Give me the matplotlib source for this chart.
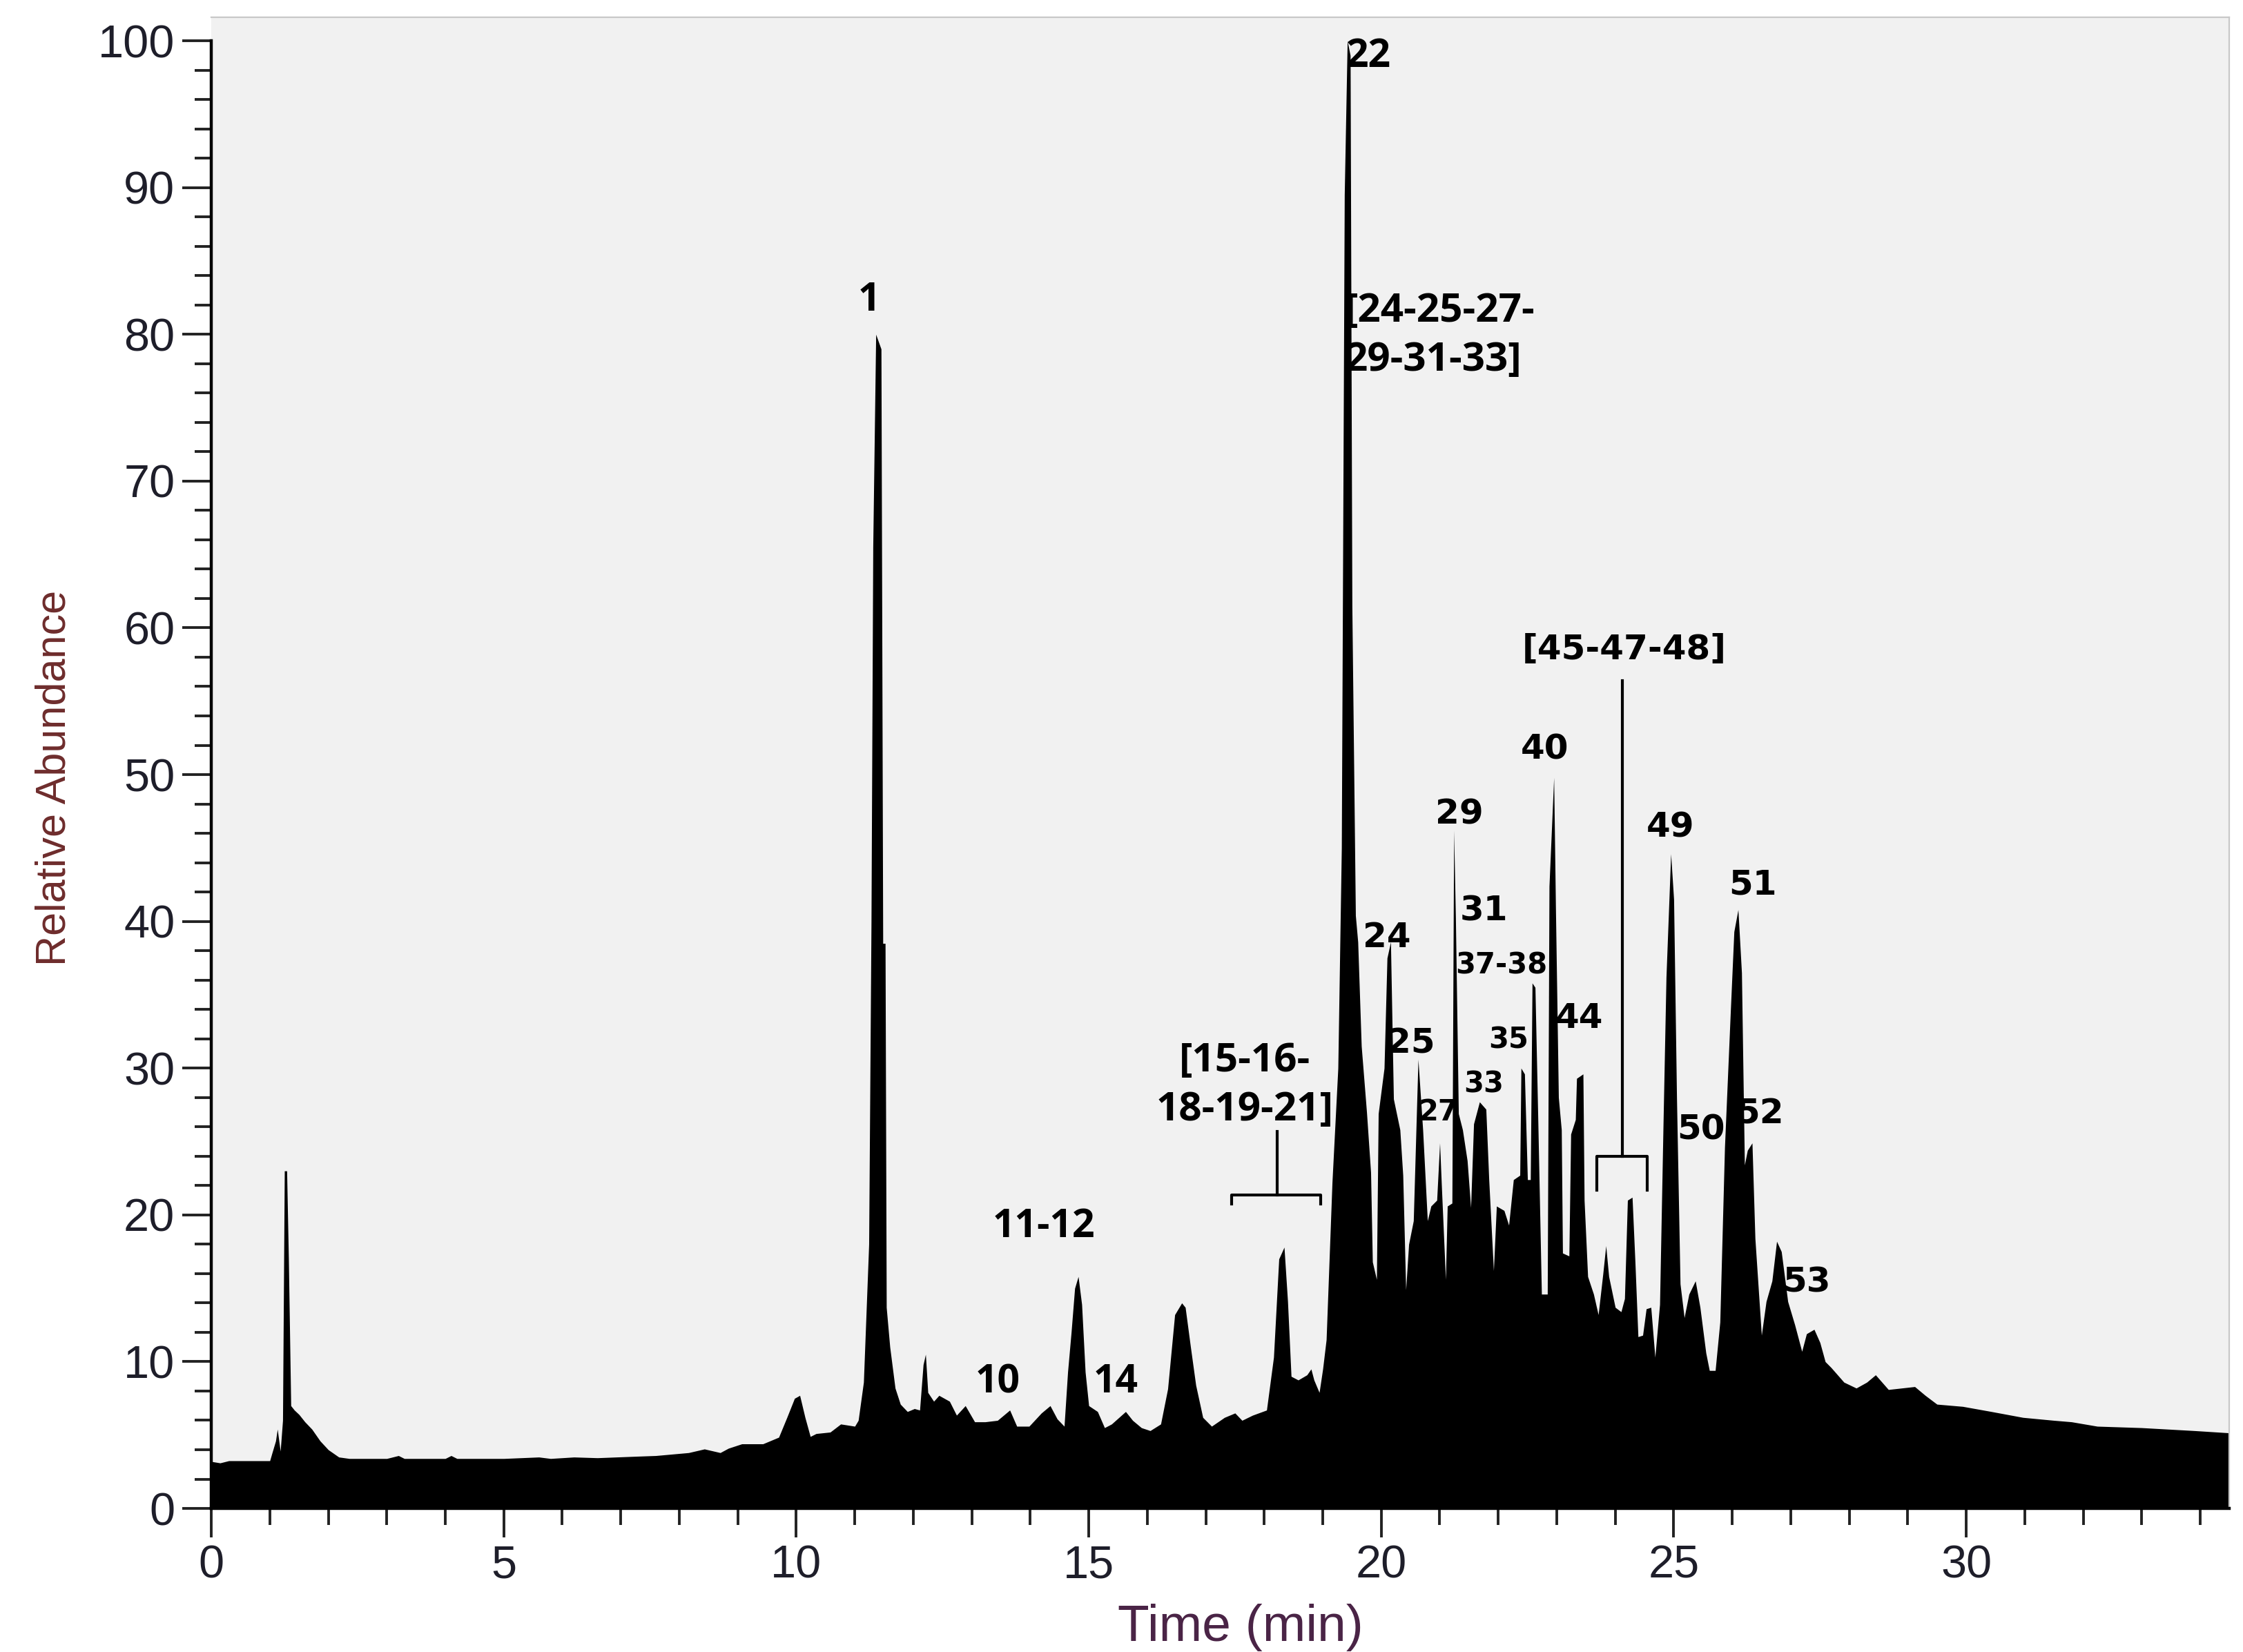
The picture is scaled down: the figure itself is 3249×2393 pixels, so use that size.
import matplotlib
matplotlib.use("Agg")
import matplotlib.pyplot as plt
from matplotlib.ticker import MultipleLocator

# chromatogram profile (time in min, relative abundance in %)
time_min = [
    0.0, 0.15, 0.3, 0.6, 1.0, 1.04, 1.1, 1.13, 1.18, 1.22, 1.25, 1.29, 1.32, 1.36,
    1.42, 1.5, 1.6, 1.72, 1.86, 2.0, 2.18, 2.36, 3.0, 3.2, 3.3, 4.0, 4.1, 4.2, 5.0,
    5.6, 5.8, 6.2, 6.6, 7.25, 7.6, 8.16, 8.43, 8.7, 8.84, 9.07, 9.43, 9.7, 9.84,
    9.97, 10.06, 10.15, 10.24, 10.34, 10.58, 10.76, 11.0, 11.06, 11.15, 11.24,
    11.28, 11.31, 11.36, 11.45, 11.48, 11.52, 11.54, 11.6, 11.69, 11.78, 11.9,
    12.02, 12.11, 12.17, 12.21, 12.25, 12.35, 12.44, 12.62, 12.74, 12.89, 13.05,
    13.23, 13.44, 13.65, 13.77, 13.98, 14.19, 14.34, 14.46, 14.58, 14.64, 14.7,
    14.76, 14.82, 14.88, 14.94, 15.0, 15.15, 15.27, 15.39, 15.63, 15.75, 15.9,
    16.05, 16.23, 16.35, 16.47, 16.59, 16.65, 16.74, 16.83, 16.95, 17.1, 17.32,
    17.5, 17.62, 17.8, 18.04, 18.16, 18.25, 18.34, 18.4, 18.46, 18.58, 18.73,
    18.8, 18.85, 18.94, 19.0, 19.06, 19.16, 19.26, 19.32, 19.37, 19.42, 19.47,
    19.5, 19.56, 19.6, 19.66, 19.75, 19.82, 19.85, 19.92, 19.95, 20.05, 20.1,
    20.16, 20.21, 20.32, 20.37, 20.42, 20.47, 20.55, 20.63, 20.71, 20.79, 20.85,
    20.95, 21.0, 21.03, 21.1, 21.13, 21.21, 21.24, 21.27, 21.32, 21.39, 21.47,
    21.53, 21.58, 21.68, 21.79, 21.84, 21.92, 21.97, 22.1, 22.18, 22.26, 22.37,
    22.39, 22.45, 22.5, 22.55, 22.58, 22.63, 22.68, 22.74, 22.84, 22.87, 22.95,
    22.98, 23.03, 23.08, 23.1, 23.21, 23.24, 23.32, 23.34, 23.45, 23.47, 23.53,
    23.63, 23.71, 23.79, 23.84, 23.89, 24.0, 24.1, 24.16, 24.21, 24.29, 24.34,
    24.39, 24.47, 24.53, 24.61, 24.68, 24.76, 24.82, 24.87, 24.95, 25.0, 25.05,
    25.11, 25.18, 25.26, 25.37, 25.45, 25.55, 25.61, 25.71, 25.79, 25.87, 25.97,
    26.03, 26.1, 26.16, 26.21, 26.26, 26.34, 26.39, 26.5, 26.58, 26.68, 26.76,
    26.84, 26.95, 27.07, 27.19, 27.27, 27.4, 27.5, 27.59, 27.69, 27.91, 28.12,
    28.3, 28.45, 28.67, 29.12, 29.3, 29.5, 29.94, 30.43, 30.97, 31.5, 31.8,
    32.24, 33.0, 33.9, 34.49,
]
abundance = [
    3.2, 3.1, 3.25, 3.25, 3.25, 3.8, 4.6, 5.4, 3.9, 6.0, 23.0, 23.0, 17.0, 7.0,
    6.7, 6.4, 5.9, 5.4, 4.6, 4.0, 3.5, 3.4, 3.4, 3.6, 3.4, 3.4, 3.6, 3.4, 3.4,
    3.5, 3.4, 3.5, 3.45, 3.55, 3.6, 3.8, 4.05, 3.8, 4.1, 4.4, 4.4, 4.85, 6.2,
    7.5, 7.7, 6.2, 4.9, 5.1, 5.2, 5.75, 5.6, 6.0, 8.6, 18.0,
    40.0, 65.5, 80.0, 79.0, 38.5, 38.5, 13.7, 11.0, 8.2, 7.1, 6.6,
    6.8, 6.7, 9.8, 10.5, 7.9, 7.3, 7.7, 7.3, 6.35, 7.0, 5.9,
    5.9, 6.0, 6.7, 5.6, 5.6, 6.5, 7.0, 6.1, 5.6, 9.3, 12.0,
    15.0, 15.8, 13.9, 9.3, 7.0, 6.6, 5.5, 5.75, 6.6, 6.0, 5.5,
    5.3, 5.75, 8.15, 13.2, 14.0, 13.7, 11.0, 8.4, 6.2, 5.6, 6.2,
    6.5, 6.0, 6.35, 6.7, 10.3, 17.0, 17.8, 14.1, 9.0, 8.75, 9.1,
    9.5, 8.75, 7.9, 9.5, 11.5, 22.2, 30.0, 45.0, 89.5, 100.0, 99.0,
    61.5, 40.4, 38.6, 31.5, 27.0, 22.9, 16.8, 15.6, 26.9, 30.0, 37.5,
    38.6, 27.9, 25.8, 22.7, 14.9, 18.0, 19.6, 30.6, 25.8, 19.6, 20.6,
    21.0, 24.9, 22.0, 15.6, 20.6, 20.8, 46.2, 40.3, 26.9, 25.8, 23.7,
    20.5, 26.2, 27.7, 27.2, 22.4, 16.2, 20.6, 20.3, 19.3, 22.4, 22.7,
    30.0, 29.6, 22.4, 22.4, 35.8, 35.5, 26.2, 14.6, 14.6, 42.4, 49.8,
    41.0, 28.0, 25.8, 17.4, 17.2, 25.5, 26.5, 29.3, 29.6, 21.0, 15.8,
    14.6, 13.2, 16.0, 17.9, 15.8, 13.7, 13.4, 14.3, 21.0, 21.2, 16.7,
    11.7, 11.8, 13.6, 13.7, 10.3, 13.9, 26.3, 36.2, 44.6, 41.5, 27.9,
    15.3, 13.0, 14.6, 15.5, 13.7, 10.6, 9.4, 9.4, 12.7, 24.6, 33.9,
    39.3, 40.8, 36.5, 23.4, 24.4, 24.9, 18.4, 11.8, 14.1, 15.5, 18.2,
    17.5, 14.1, 12.5, 10.7, 11.9, 12.2, 11.3, 10.0, 9.6, 8.6, 8.2,
    8.6, 9.1, 8.1, 8.3, 7.7, 7.1, 6.95, 6.6, 6.2, 6.0, 5.9,
    5.6, 5.5, 5.3, 5.15,
]

# peak labels: text, time, abundance, style ('c' = Calibri-like, 'v' = Verdana-like, 's' = small)
peak_labels = ["1", "10", "11-12", "14", "22", "24", "25", "27", "29", "31",
               "33", "35", "37-38", "40", "44", "[45-47-48]", "49", "50", "51",
               "52", "53"]
peak_t = [11.25, 13.44, 14.23, 15.46, 19.4, 20.1, 20.51, 20.98, 21.34, 21.75,
          21.75, 22.18, 22.06, 22.79, 23.38, 24.15, 24.94, 25.47, 26.35,
          26.47, 27.27]
peak_v = [82.3, 8.6, 19.2, 8.6, 98.9, 38.9, 31.7, 27.0, 47.3, 40.7,
          28.9, 31.9, 37.0, 51.7, 33.4, 58.5, 46.4, 25.8, 42.5,
          26.9, 15.4]
peak_style = ["c", "c", "c", "c", "cl", "v", "v", "s", "v", "v",
              "s", "s", "s", "v", "v", "v", "v", "v", "v",
              "v", "v"]

x_ticks = [0, 5, 10, 15, 20, 25, 30]
y_ticks = [0, 10, 20, 30, 40, 50, 60, 70, 80, 90, 100]

CAL = "Open Sans"

fig = plt.figure(figsize=(16.245, 11.965), dpi=200)
ax = fig.add_axes([0.0942, 0.0869, 0.8995, 0.90265])
ax.set_facecolor("#f1f1f1")

ax.fill_between(time_min, abundance, 0, color="black", lw=0, zorder=2)

ax.set_xlim(0, 34.49)
ax.set_ylim(0, 101.6)

ax.set_xticks(x_ticks)
ax.set_yticks(y_ticks)
ax.xaxis.set_minor_locator(MultipleLocator(1))
ax.yaxis.set_minor_locator(MultipleLocator(2))
ax.tick_params(which="major", direction="out", length=15, width=1.4,
               labelsize=24, pad=4, labelcolor="#1e1e2a", color="#222222")
ax.tick_params(which="minor", direction="out", length=8.5, width=1.4,
               color="#222222")
for lab in ax.get_xticklabels() + ax.get_yticklabels():
    lab.set_family("Liberation Sans")

ax.spines["left"].set_bounds(0, 100)
ax.spines["left"].set_linewidth(1.6)
ax.spines["bottom"].set_linewidth(1.6)
ax.spines["top"].set_color("#c8c8c8")
ax.spines["right"].set_color("#c8c8c8")

ax.set_ylabel("Relative Abundance", fontsize=22, family="Liberation Sans",
              color="#6e2c2c")
ax.yaxis.set_label_coords(-0.068, 0.49)
ax.set_xlabel("Time (min)", fontsize=27, family="Liberation Sans",
              color="#4a2446")
ax.xaxis.set_label_coords(0.51, -0.064)

# peak numbers
for txt, t, v, st in zip(peak_labels, peak_t, peak_v, peak_style):
    if st == "c":
        ax.text(t, v, txt, ha="center", va="center", fontsize=20.5,
                family=CAL, fontweight="bold", zorder=3)
    elif st == "cl":
        ax.text(t, v, txt, ha="left", va="center", fontsize=20.5,
                family=CAL, fontweight="bold", zorder=3)
    elif st == "s":
        ax.text(t, v, txt, ha="center", va="center", fontsize=15,
                family="DejaVu Sans", fontweight="bold", zorder=3)
    else:
        ax.text(t, v, txt, ha="center", va="center", fontsize=18,
                family="DejaVu Sans", fontweight="bold", zorder=3)

# grouped labels
ax.text(19.38, 79.9, "[24-25-27-\n29-31-33]", ha="left", va="center",
        fontsize=21, family=CAL, fontweight="bold", linespacing=1.3,
        zorder=3)
ax.text(17.67, 28.8, "[15-16-\n18-19-21]", ha="center", va="center",
        fontsize=21, family=CAL, fontweight="bold", linespacing=1.3,
        zorder=3)

# brackets
ax.plot([17.44, 17.44, 18.97, 18.97], [20.75, 21.35, 21.35, 20.75],
        color="black", lw=1.5, zorder=3)
ax.plot([18.22, 18.22], [21.35, 25.7], color="black", lw=1.5, zorder=3)
ax.plot([23.68, 23.68, 24.55, 24.55], [21.7, 24.0, 24.0, 21.7],
        color="black", lw=1.5, zorder=3)
ax.plot([24.12, 24.12], [24.0, 56.4], color="black", lw=1.5, zorder=3)

fig.savefig("out.png", dpi=200)
